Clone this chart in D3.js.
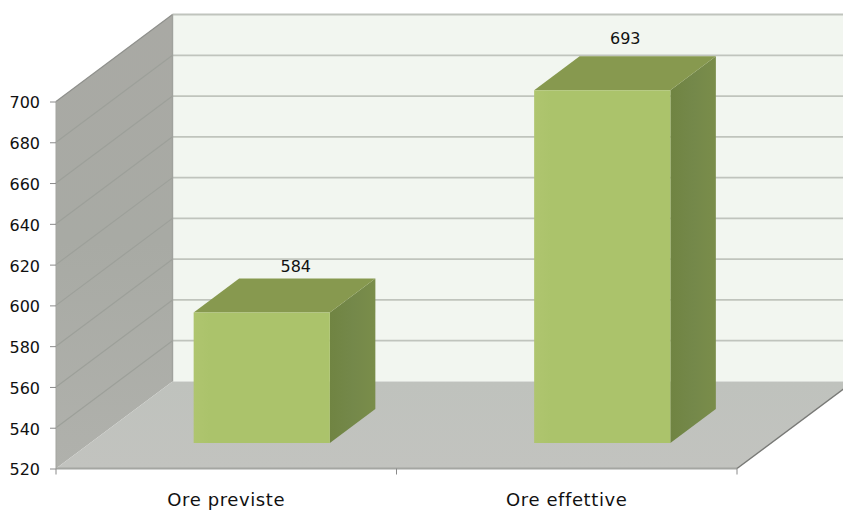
<!DOCTYPE html>
<html>
<head>
<meta charset="utf-8">
<script src="https://cdn.jsdelivr.net/npm/d3@7/dist/d3.min.js"></script>
<style>
html,body{margin:0;padding:0;background:#fff;overflow:hidden}
svg{display:block}
text{font-family:"DejaVu Sans",sans-serif;font-size:16px;fill:#111}
</style>
</head>
<body>
<svg id="chart" width="843" height="510"></svg>
<script>
// Chart values
const categories = ["Ore previste", "Ore effettive"];
const hours = [584, 693];
const yTicks = [520, 540, 560, 580, 600, 620, 640, 660, 680, 700];

// Frame of the pseudo-3D box
const W = 843, H = 510;
const left = 56, right = 737, baseY = 468.5, topY = 101.5;
const wallDx = 116.5, wallDy = -87;          // front plane to back wall
const barDx = 45.5, barDy = -34;             // depth of one bar
const planeDx = 34, planeDy = -25.5;         // front plane to bar front face

const svg = d3.select("#chart");
const y = d3.scaleLinear().domain([520, 700]).range([baseY, topY]);
const x = d3.scaleBand().domain(categories).range([left, right]).paddingInner(0).paddingOuter(0);
const pts = a => a.map(p => p.join(",")).join(" ");

// Gradients for the walls and the bar faces
const defs = svg.append("defs");
function grad(id, stops, x2, y2) {
  const g = defs.append("linearGradient").attr("id", id)
    .attr("x1", 0).attr("y1", 0).attr("x2", x2).attr("y2", y2);
  stops.forEach(([o, c]) => g.append("stop").attr("offset", o).attr("stop-color", c));
}
grad("sideWall", [[0, "#a9a9a4"], [0.5, "#a8aaa4"], [1, "#b0b1ac"]], 0, 1);
grad("floor", [[0, "#bfc2bd"], [1, "#c2c3bf"]], 0, 1);
grad("front", [[0, "#afc56f"], [0.12, "#abc36b"], [1, "#abc36b"]], 1, 0);
grad("side", [[0, "#708442"], [0.5, "#74884a"], [1, "#7a8d4a"]], 1, 0);

// Back wall
svg.append("rect").attr("x", left + wallDx).attr("y", y(700) + wallDy)
  .attr("width", W - left - wallDx).attr("height", y(520) - y(700)).attr("fill", "#f2f6f0");

// Side wall
svg.append("polygon").attr("fill", "url(#sideWall)")
  .attr("points", pts([[left, y(700)], [left + wallDx, y(700) + wallDy], [left + wallDx, y(520) + wallDy], [left, y(520)]]));

// Floor
svg.append("polygon").attr("fill", "url(#floor)")
  .attr("points", pts([[left, y(520)], [left + wallDx, y(520) + wallDy], [right + wallDx, y(520) + wallDy], [right, y(520)]]));

// Gridlines on both walls
const grid = svg.append("g");
grid.selectAll(".back").data(yTicks.slice(1)).join("line").attr("class", "back")
  .attr("x1", left + wallDx).attr("x2", W)
  .attr("y1", d => y(d) + wallDy).attr("y2", d => y(d) + wallDy)
  .attr("stroke", "#c0c4bd").attr("stroke-width", d => d === 700 ? 2.2 : 1.8);
grid.selectAll(".sideline").data(yTicks.slice(1)).join("line").attr("class", "sideline")
  .attr("x1", left).attr("x2", left + wallDx)
  .attr("y1", d => y(d)).attr("y2", d => y(d) + wallDy)
  .attr("stroke", d => d === 700 ? "#8f908c" : "#9da09a").attr("stroke-width", 1.2);

// Box edges
const edges = svg.append("g").attr("fill", "none");
edges.append("line").attr("x1", left + wallDx).attr("x2", left + wallDx)
  .attr("y1", y(700) + wallDy).attr("y2", y(520) + wallDy)
  .attr("stroke", "#a0a29d").attr("stroke-width", 1.4);
edges.append("line").attr("x1", left).attr("x2", right).attr("y1", baseY).attr("y2", baseY)
  .attr("stroke", "#a4a6a2").attr("stroke-width", 1.8);
edges.append("line").attr("x1", right).attr("x2", right + wallDx)
  .attr("y1", baseY).attr("y2", baseY + wallDy)
  .attr("stroke", "#787976").attr("stroke-width", 1.5);
edges.append("line").attr("x1", left).attr("x2", left).attr("y1", topY).attr("y2", baseY)
  .attr("stroke", "#a3a49f").attr("stroke-width", 1);

// Bars: front, top and side face
const barW = x.bandwidth() * 0.4;
const bx = d => x(d) + planeDx + (x.bandwidth() - barW) / 2 + 1.5;
const bars = svg.selectAll(".bar").data(categories).join("g").attr("class", "bar");
const barTop = (d, i) => y(hours[i]) + planeDy;
const barBase = y(520) + planeDy;

bars.append("polygon").attr("fill", "url(#side)")
  .attr("points", (d, i) => pts([
    [bx(d) + barW, barTop(d, i)], [bx(d) + barW + barDx, barTop(d, i) + barDy],
    [bx(d) + barW + barDx, barBase + barDy], [bx(d) + barW, barBase]]));
bars.append("polygon").attr("fill", "#87994f")
  .attr("points", (d, i) => pts([
    [bx(d), barTop(d, i)], [bx(d) + barDx, barTop(d, i) + barDy],
    [bx(d) + barW + barDx, barTop(d, i) + barDy], [bx(d) + barW, barTop(d, i)]]));
bars.append("rect").attr("fill", "url(#front)")
  .attr("x", bx).attr("y", barTop).attr("width", barW)
  .attr("height", (d, i) => barBase - barTop(d, i));

// Value labels above each bar
bars.append("text").attr("text-anchor", "middle")
  .attr("x", (d, i) => bx(d) + barW / 2 + (i === 0 ? 34 : 23))
  .attr("y", (d, i) => barTop(d, i) + barDy - (i === 0 ? 7 : 12))
  .text((d, i) => hours[i]);

// Value axis
const yAxis = d3.axisLeft(y).tickValues(yTicks).tickSize(6).tickPadding(10).tickFormat(d3.format("d"));
const gy = svg.append("g").attr("transform", `translate(${left},0)`).call(yAxis);
gy.select(".domain").remove();
gy.selectAll("line").attr("stroke", "#8a8a8a");
gy.selectAll("text").attr("fill", "#111").attr("dy", "0.4em").style("font-size", "16px").style("font-family", '"DejaVu Sans",sans-serif');

// Category axis, with ticks on the band edges
const xAxis = d3.axisBottom(x).tickSize(0).tickPadding(25);
const gx = svg.append("g").attr("transform", `translate(0,${baseY})`).call(xAxis);
gx.select(".domain").remove();
gx.selectAll("text").attr("fill", "#111").style("font-size", "18px").style("letter-spacing", "0.6px")
  .style("font-family", '"DejaVu Sans",sans-serif');
svg.append("g").selectAll("line").data([...categories.map(d => x(d)), right]).join("line")
  .attr("x1", d => d).attr("x2", d => d).attr("y1", baseY).attr("y2", baseY + 6)
  .attr("stroke", "#8a8a8a");
</script>
</body>
</html>
